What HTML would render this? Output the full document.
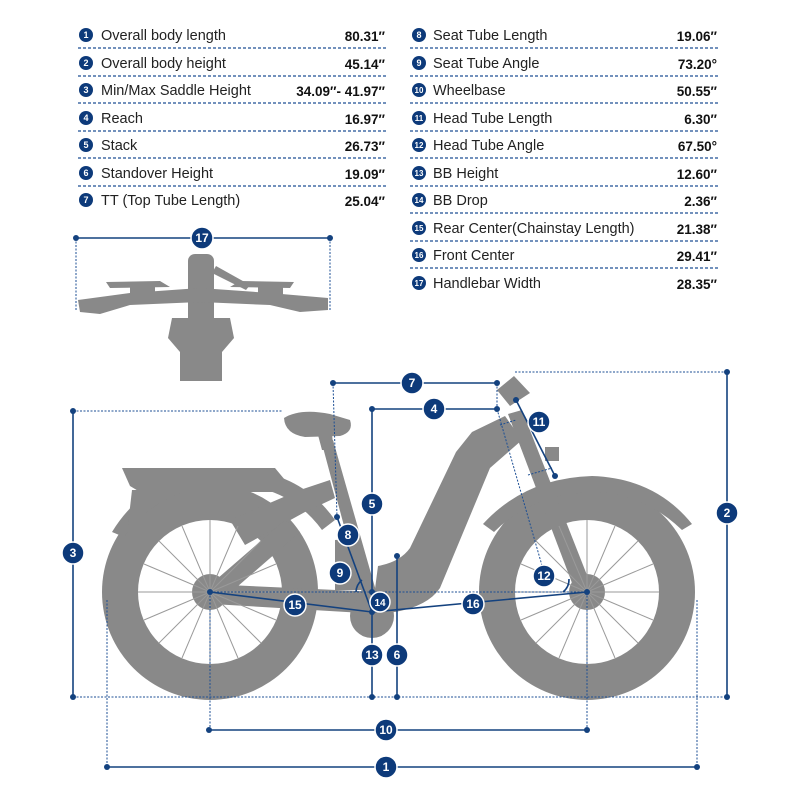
<!DOCTYPE html>
<html><head><meta charset="utf-8"><style>
html,body{margin:0;padding:0;background:#fff}
svg{display:block}
text{font-family:"Liberation Sans",sans-serif}
</style></head><body>
<svg width="800" height="800" viewBox="0 0 800 800" xmlns="http://www.w3.org/2000/svg">
<g stroke="#1d4f94" stroke-width="1.3" stroke-dasharray="3,2">
<line x1="78" y1="48" x2="386" y2="48"/><line x1="78" y1="76" x2="386" y2="76"/><line x1="78" y1="103" x2="386" y2="103"/><line x1="78" y1="131" x2="386" y2="131"/><line x1="78" y1="158" x2="386" y2="158"/><line x1="78" y1="186" x2="386" y2="186"/>
<line x1="410" y1="48" x2="718" y2="48"/><line x1="410" y1="76" x2="718" y2="76"/><line x1="410" y1="103" x2="718" y2="103"/><line x1="410" y1="131" x2="718" y2="131"/><line x1="410" y1="158" x2="718" y2="158"/><line x1="410" y1="186" x2="718" y2="186"/><line x1="410" y1="213" x2="718" y2="213"/><line x1="410" y1="241" x2="718" y2="241"/><line x1="410" y1="268" x2="718" y2="268"/>
</g>
<g fill="#0d3a7a">
<circle cx="86" cy="35" r="7"/><circle cx="86" cy="63" r="7"/><circle cx="86" cy="90" r="7"/><circle cx="86" cy="118" r="7"/><circle cx="86" cy="145" r="7"/><circle cx="86" cy="173" r="7"/><circle cx="86" cy="200" r="7"/>
<circle cx="419" cy="35" r="7"/><circle cx="419" cy="63" r="7"/><circle cx="419" cy="90" r="7"/><circle cx="419" cy="118" r="7"/><circle cx="419" cy="145" r="7"/><circle cx="419" cy="173" r="7"/><circle cx="419" cy="200" r="7"/><circle cx="419" cy="228" r="7"/><circle cx="419" cy="255" r="7"/><circle cx="419" cy="283" r="7"/>
</g>
<g fill="#fff" font-size="9" font-weight="bold" text-anchor="middle">
<text x="86" y="38">1</text><text x="86" y="66">2</text><text x="86" y="93">3</text><text x="86" y="121">4</text><text x="86" y="148">5</text><text x="86" y="176">6</text><text x="86" y="203">7</text>
<text x="419" y="38">8</text><text x="419" y="66">9</text><text x="419" y="93" font-size="8">10</text><text x="419" y="121" font-size="8">11</text><text x="419" y="148" font-size="8">12</text><text x="419" y="176" font-size="8">13</text><text x="419" y="203" font-size="8">14</text><text x="419" y="231" font-size="8">15</text><text x="419" y="258" font-size="8">16</text><text x="419" y="286" font-size="8">17</text>
</g>
<g fill="#222" font-size="14.5">
<text x="101" y="40">Overall body length</text><text x="101" y="68">Overall body height</text><text x="101" y="95">Min/Max Saddle Height</text><text x="101" y="123">Reach</text><text x="101" y="150">Stack</text><text x="101" y="178">Standover Height</text><text x="101" y="205">TT (Top Tube Length)</text>
<text x="433" y="40">Seat Tube Length</text><text x="433" y="68">Seat Tube Angle</text><text x="433" y="95">Wheelbase</text><text x="433" y="123">Head Tube Length</text><text x="433" y="150">Head Tube Angle</text><text x="433" y="178">BB Height</text><text x="433" y="205">BB Drop</text><text x="433" y="233">Rear Center(Chainstay Length)</text><text x="433" y="260">Front Center</text><text x="433" y="288">Handlebar Width</text>
</g>
<g fill="#111" font-size="13.5" font-weight="bold" text-anchor="end">
<text x="385" y="41">80.31″</text><text x="385" y="69">45.14″</text><text x="385" y="96">34.09″- 41.97″</text><text x="385" y="124">16.97″</text><text x="385" y="151">26.73″</text><text x="385" y="179">19.09″</text><text x="385" y="206">25.04″</text>
<text x="717" y="41">19.06″</text><text x="717" y="69">73.20°</text><text x="717" y="96">50.55″</text><text x="717" y="124">6.30″</text><text x="717" y="151">67.50°</text><text x="717" y="179">12.60″</text><text x="717" y="206">2.36″</text><text x="717" y="234">21.38″</text><text x="717" y="261">29.41″</text><text x="717" y="289">28.35″</text>
</g>

<!-- handlebar top view -->
<g fill="#898989">
<rect x="188" y="254" width="26" height="127" rx="7"/>
<path d="M78 300 L130 293 L200 288 L270 293 L328 298 L328 310 L300 312 L270 305 L200 302 L130 305 L100 314 L80 312 Z"/>
<path d="M106 282 L160 281 L170 287 L110 288Z M294 282 L240 281 L230 287 L290 288Z"/>
<rect x="130" y="284" width="25" height="20" rx="3"/><rect x="258" y="284" width="25" height="20" rx="3"/>
<path d="M172 318 L230 318 L234 338 L222 352 L222 381 L180 381 L180 352 L168 338Z"/>
<path d="M216 266 L250 285 L246 290 L212 273Z"/>
</g>
<g stroke="#1d4f94" stroke-width="1" stroke-dasharray="2,1.5"><line x1="76" y1="238" x2="76" y2="310"/><line x1="330" y1="238" x2="330" y2="310"/></g>

<!-- bike -->
<g fill="#898989">
<circle cx="210" cy="592" r="108"/>
<circle cx="210" cy="592" r="72" fill="#fff"/>
<circle cx="587" cy="592" r="108"/>
<circle cx="587" cy="592" r="72" fill="#fff"/>
<!-- fenders -->
<path d="M112 532 Q150 470 230 468 Q300 470 335 520 L322 530 Q290 486 230 484 Q160 486 124 537Z"/>
<path d="M483 524 Q525 478 592 476 Q655 478 692 524 L682 530 Q642 492 592 492 Q532 494 494 532Z"/>
<!-- rack -->
<path d="M122 468 L275 468 L285 480 L285 492 L140 492 L130 486 Z"/>
<path d="M132 490 L150 490 L140 525 L128 525Z"/>
<!-- rear struts -->
<path d="M230 520 L300 490 L330 480 L335 498 L305 512 L245 545Z"/>
<path d="M210 585 L285 520 L300 532 L222 600Z"/>
<!-- downtube -->
<path d="M505 416 L472 432 L456 452 L410 548 Q400 562 378 566 L372 612 L395 612 Q428 606 440 588 L490 468 L522 440 Z"/>
<!-- seat tube -->
<path d="M321 440 L333 440 L380 605 L366 608Z"/>
<path d="M335 540 L360 538 L370 590 L335 590Z"/>
<!-- saddle -->
<path d="M284 418 Q300 408 330 414 L350 420 Q354 432 340 436 L305 437 Q285 434 284 418Z"/>
<path d="M318 435 L332 435 L334 450 L322 450Z"/>
<!-- chainstay -->
<path d="M205 584 L380 592 L380 614 L212 604Z"/>
<circle cx="372" cy="616" r="22"/>
<!-- fork & head -->
<path d="M508 414 L522 410 L596 598 L580 604Z"/>
<path d="M497 390 L514 376 L530 393 L510 406Z"/>
<circle cx="210" cy="592" r="18"/>
<circle cx="587" cy="592" r="18"/>
<rect x="545" y="447" width="14" height="14"/>
</g>
<g stroke="#9a9a9a" stroke-width="1">
<line x1="210" y1="520" x2="210" y2="664"/><line x1="138" y1="592" x2="282" y2="592"/><line x1="159" y1="541" x2="261" y2="643"/><line x1="261" y1="541" x2="159" y2="643"/>
<line x1="587" y1="520" x2="587" y2="664"/><line x1="515" y1="592" x2="659" y2="592"/><line x1="536" y1="541" x2="638" y2="643"/><line x1="638" y1="541" x2="536" y2="643"/>
<line x1="182" y1="526" x2="238" y2="658"/><line x1="238" y1="526" x2="182" y2="658"/><line x1="559" y1="526" x2="615" y2="658"/><line x1="615" y1="526" x2="559" y2="658"/>
<line x1="144" y1="564" x2="276" y2="620"/><line x1="144" y1="620" x2="276" y2="564"/><line x1="521" y1="564" x2="653" y2="620"/><line x1="521" y1="620" x2="653" y2="564"/>
</g>

<g stroke="#1d4f94" stroke-width="1" stroke-dasharray="2,1.5" fill="none">
<line x1="73" y1="697" x2="727" y2="697"/>
<line x1="73" y1="411" x2="283" y2="411"/>
<line x1="515" y1="372" x2="727" y2="372"/>
<line x1="210" y1="592" x2="587" y2="592"/>
<line x1="107" y1="600" x2="107" y2="767"/><line x1="697" y1="600" x2="697" y2="767"/>
<line x1="210" y1="592" x2="210" y2="730"/><line x1="587" y1="592" x2="587" y2="730"/>
<line x1="333" y1="383" x2="337" y2="517"/>
<line x1="497" y1="383" x2="497" y2="409"/>
<line x1="497" y1="409" x2="545" y2="576"/>
<line x1="500" y1="425" x2="516" y2="420"/><line x1="528" y1="475" x2="552" y2="468"/>
</g>
<g stroke="#14427f" stroke-width="1.6" fill="none">
<line x1="76" y1="238" x2="330" y2="238"/>
<line x1="107" y1="767" x2="697" y2="767"/>
<line x1="209" y1="730" x2="587" y2="730"/>
<line x1="73" y1="411" x2="73" y2="697"/>
<line x1="727" y1="372" x2="727" y2="697"/>
<line x1="333" y1="383" x2="497" y2="383"/>
<line x1="372" y1="409" x2="497" y2="409"/>
<line x1="372" y1="409" x2="372" y2="697"/>
<line x1="397" y1="556" x2="397" y2="697"/>
<line x1="337" y1="517" x2="372" y2="612"/>
<polyline points="210,592 372,612 587,592"/>
<line x1="516" y1="400" x2="555" y2="476"/>
<path d="M356 592 A16 16 0 0 1 362 580"/>
<path d="M563 592 A16 16 0 0 0 569 579"/>
</g>
<g fill="#14427f">
<circle cx="76" cy="238" r="3"/><circle cx="330" cy="238" r="3"/>
<circle cx="107" cy="767" r="3"/><circle cx="697" cy="767" r="3"/>
<circle cx="209" cy="730" r="3"/><circle cx="587" cy="730" r="3"/>
<circle cx="73" cy="411" r="3"/><circle cx="73" cy="697" r="3"/>
<circle cx="727" cy="372" r="3"/><circle cx="727" cy="697" r="3"/>
<circle cx="333" cy="383" r="3"/><circle cx="497" cy="383" r="3"/>
<circle cx="372" cy="409" r="3"/><circle cx="497" cy="409" r="3"/>
<circle cx="372" cy="697" r="3"/><circle cx="397" cy="556" r="3"/><circle cx="397" cy="697" r="3"/>
<circle cx="337" cy="517" r="3"/><circle cx="372" cy="612" r="3"/><circle cx="372" cy="592" r="3"/>
<circle cx="210" cy="592" r="3"/><circle cx="587" cy="592" r="3"/>
<circle cx="516" cy="400" r="3"/><circle cx="555" cy="476" r="3"/>
</g>
<g fill="#0d3a7a" stroke="#fff" stroke-width="1.5">
<circle cx="202" cy="238" r="11"/><circle cx="386" cy="767" r="11"/><circle cx="386" cy="730" r="11"/>
<circle cx="73" cy="553" r="11"/><circle cx="727" cy="513" r="11"/><circle cx="412" cy="383" r="11"/>
<circle cx="434" cy="409" r="11"/><circle cx="372" cy="504" r="11"/><circle cx="397" cy="655" r="11"/>
<circle cx="372" cy="655" r="11"/><circle cx="348" cy="535" r="11"/><circle cx="340" cy="573" r="11"/>
<circle cx="380" cy="602" r="10"/><circle cx="295" cy="605" r="11"/><circle cx="473" cy="604" r="11"/>
<circle cx="539" cy="422" r="11"/><circle cx="544" cy="576" r="11"/>
</g>
<g fill="#fff" font-size="12" font-weight="bold" text-anchor="middle">
<text x="202" y="242">17</text><text x="386" y="771">1</text><text x="386" y="734">10</text>
<text x="73" y="557">3</text><text x="727" y="517">2</text><text x="412" y="387">7</text>
<text x="434" y="413">4</text><text x="372" y="508">5</text><text x="397" y="659">6</text>
<text x="372" y="659">13</text><text x="348" y="539">8</text><text x="340" y="577">9</text>
<text x="380" y="606" font-size="10">14</text><text x="295" y="609">15</text><text x="473" y="608">16</text>
<text x="539" y="426">11</text><text x="544" y="580">12</text>
</g>
</svg>
</body></html>
